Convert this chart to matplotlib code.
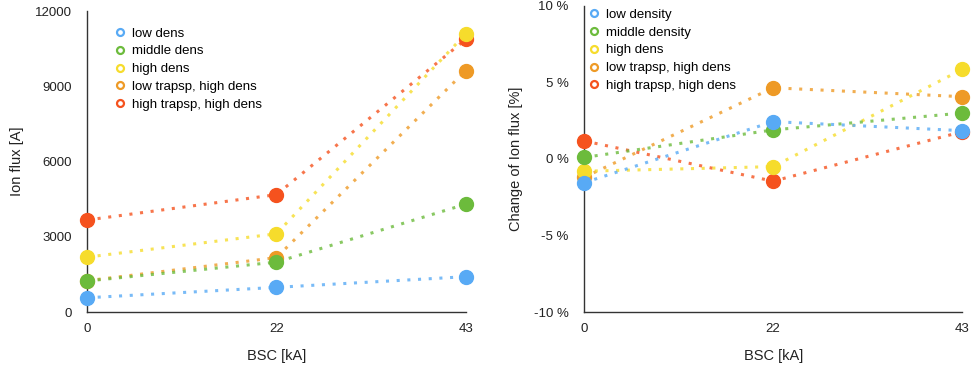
import matplotlib.pyplot as plt

# datos
bsc = ['0', '22', '43']
nombres_izq = ['low dens', 'middle dens', 'high dens', 'low trapsp, high dens', 'high trapsp, high dens']
nombres_der = ['low density', 'middle density', 'high dens', 'low trapsp, high dens', 'high trapsp, high dens']
colores = ['#58aaf5', '#6cbb3c', '#f6dc2c', '#ee9a26', '#f5521e']

flujo_low = [570, 985, 1410]
flujo_middle = [1240, 1990, 4300]
flujo_high = [2190, 3120, 11090]
flujo_lowtrap = [1250, 2170, 9620]
flujo_hightrap = [3670, 4680, 10870]

cambio_low = [-1.55, 2.44, 1.85]
cambio_middle = [0.1, 1.9, 3.0]
cambio_high = [-0.8, -0.5, 5.85]
cambio_lowtrap = [-1.2, 4.65, 4.07]
cambio_hightrap = [1.18, -1.45, 1.78]

flujos = [flujo_low, flujo_middle, flujo_high, flujo_lowtrap, flujo_hightrap]
cambios = [cambio_low, cambio_middle, cambio_high, cambio_lowtrap, cambio_hightrap]

plt.rcParams['font.family'] = ['Liberation Sans', 'DejaVu Sans']

fig = plt.figure(figsize=(9.71, 3.68), dpi=100)
ax1 = fig.add_axes([0.0896, 0.152, 0.390, 0.818])
ax2 = fig.add_axes([0.6015, 0.152, 0.3895, 0.832])

def graficar(ax, datos, nombres):
    pos = range(len(bsc))
    # se dibuja al reves para que el azul quede arriba
    for i in reversed(range(len(datos))):
        z = 2 + 2 * (5 - i)
        ax.plot(pos, datos[i], color=colores[i], linestyle=(0, (1, 2.5)), linewidth=2.2,
                alpha=0.8, zorder=z, clip_on=False)
        ax.plot(pos, datos[i], linestyle='none', marker='o', markersize=10,
                markerfacecolor=colores[i], markeredgecolor=colores[i], zorder=z + 1, clip_on=False)
    # leyenda con circulos huecos
    manejadores = []
    for i in range(len(nombres)):
        h, = ax.plot([], [], linestyle='none', marker='o', markersize=5,
                     markerfacecolor='white', markeredgecolor=colores[i], markeredgewidth=1.6,
                     label=nombres[i])
        manejadores.append(h)
    ax.set_xlim(0, 2)
    ax.set_xticks(list(pos))
    ax.set_xticklabels(bsc)
    for lado in ['top', 'right']:
        ax.spines[lado].set_visible(False)
    for lado in ['left', 'bottom']:
        ax.spines[lado].set_color('#333333')
        ax.spines[lado].set_linewidth(1.0)
    ax.tick_params(length=0, labelsize=9.5, colors='#222222')
    ax.tick_params(axis='y', pad=11)
    ax.tick_params(axis='x', pad=8)
    ax.set_xlabel('BSC [kA]', fontsize=10.5, color='#222222', labelpad=10)
    return manejadores

h1 = graficar(ax1, flujos, nombres_izq)
ax1.set_ylim(0, 12000)
ax1.set_yticks([0, 3000, 6000, 9000, 12000])
ax1.set_ylabel('Ion flux [A]', fontsize=10.5, color='#222222', labelpad=8)
ax1.legend(handles=h1, loc='upper left', bbox_to_anchor=(0.035, 0.985), frameon=False,
           fontsize=9.5, handletextpad=0.3, labelspacing=0.42, handlelength=1.2)

h2 = graficar(ax2, cambios, nombres_der)
ax2.set_ylim(-10, 10)
ax2.set_yticks([-10, -5, 0, 5, 10])
ax2.set_yticklabels(['-10 %', '-5 %', '0 %', '5 %', '10 %'])
ax2.set_ylabel('Change of Ion flux [%]', fontsize=10.5, color='#222222', labelpad=8)
ax2.legend(handles=h2, loc='upper left', bbox_to_anchor=(-0.025, 1.03), frameon=False,
           fontsize=9.5, handletextpad=0.3, labelspacing=0.42, handlelength=1.2)

fig.savefig('out.png', dpi=100)
